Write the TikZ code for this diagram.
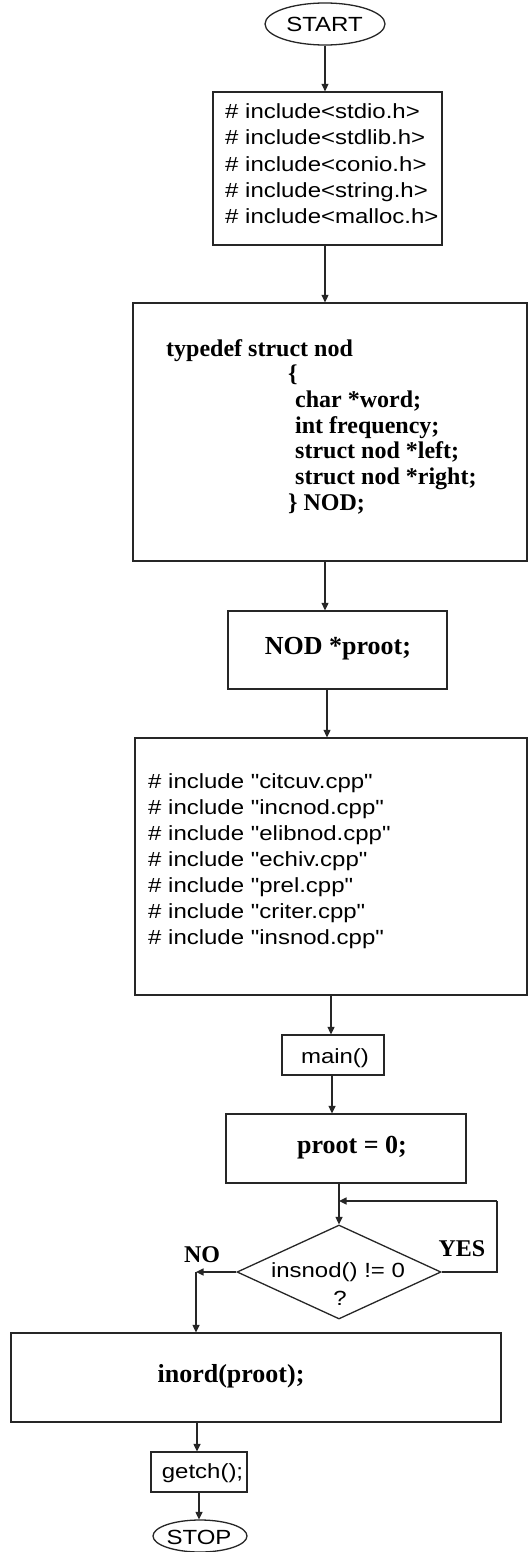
\documentclass[tikz,border=0pt]{standalone}
\usepackage{fontspec}
\newfontfamily\sansf[FakeStretch=1.17]{Liberation Sans}
\newfontfamily\serf{Liberation Serif}
\usetikzlibrary{arrows.meta,shapes.geometric}
\tikzset{
  bx/.style={draw=black!85, line width=1.3pt, inner sep=0pt, fill=none},
  arr/.style={draw=black!85, line width=1.3pt, -{Triangle[length=7.5pt,width=7pt]}},
  ln/.style={draw=black!85, line width=1.3pt},
  st/.style={font=\sansf\fontsize{20.5}{26}\selectfont, inner sep=0pt},
  sb/.style={font=\serf\bfseries\fontsize{24}{26}\selectfont, inner sep=0pt},
  sbb/.style={font=\serf\bfseries\fontsize{26}{28}\selectfont, inner sep=0pt},
}
\begin{document}
\begin{tikzpicture}[x=1pt,y=-1pt]
\useasboundingbox[fill=white] (0,0) rectangle (528,1552);

% shapes
\node[bx, ellipse, minimum width=120pt, minimum height=42pt] (start) at (325,24) {};
\node[st, anchor=base] (tstart) at (324.5,32) {START};

\node[bx, minimum width=229pt, minimum height=153pt] (b1) at (327.5,168.5) {};
\foreach \t [count=\i from 0] in {stdio.h,stdlib.h,conio.h,string.h,malloc.h}
  \node[st, anchor=base west] (inc\i) at (225,119+26*\i) {\# include<\t>};

\node[bx, minimum width=394pt, minimum height=258pt] (b2) at (330,432) {};
\node[sb, anchor=base west] (s0) at (166,356) {typedef struct nod};
\node[sb, anchor=base west] (s1) at (288,381.7) {\{};
\node[sb, anchor=base west] (s2) at (295,407.4) {char *word;};
\node[sb, anchor=base west] (s3) at (295,433.1) {int frequency;};
\node[sb, anchor=base west] (s4) at (295,458.8) {struct nod *left;};
\node[sb, anchor=base west] (s5) at (295,484.5) {struct nod *right;};
\node[sb, anchor=base west] (s6) at (288,510.2) {\} NOD;};

\node[bx, minimum width=219pt, minimum height=78pt] (b3) at (337.5,650) {};
\node[sbb, anchor=base] (t3) at (338,654) {NOD *proot;};

\node[bx, minimum width=392pt, minimum height=257pt] (b4) at (331,866.5) {};
\foreach \t [count=\i from 0] in {citcuv,incnod,elibnod,echiv,prel,criter,insnod}
  \node[st, anchor=base west] (cp\i) at (148,788+26.1*\i) {\# include "\t.cpp"};

\node[bx, minimum width=102pt, minimum height=40pt] (main) at (333,1055) {};
\node[st, anchor=base] (tmain) at (335,1063) {main()};

\node[bx, minimum width=240pt, minimum height=69pt] (pr) at (346,1148.5) {};
\node[sbb, anchor=base] (tpr) at (352,1153) {proot = 0;};

\node[bx, diamond, minimum width=204pt, minimum height=94pt] (dia) at (339,1272) {};
\node[st, anchor=base] (td1) at (338,1277) {insnod() != 0};
\node[st, anchor=base] (td2) at (340,1305) {?};

\node[sb, anchor=base] (no) at (202,1262) {NO};
\node[sb, anchor=base] (yes) at (462,1256) {YES};

\node[bx, minimum width=490pt, minimum height=89pt] (in) at (256,1377.5) {};
\node[sbb, anchor=base] (tin) at (231,1382) {inord(proot);};

\node[bx, minimum width=96pt, minimum height=40pt] (gt) at (199,1472) {};
\node[st, anchor=base] (tgt) at (202.5,1478) {getch();};

\node[bx, ellipse, minimum width=94pt, minimum height=32pt] (stop) at (200,1536) {};
\node[st, anchor=base] (tstop) at (199,1544) {STOP};

% connectors
\draw[arr] (start.south) -- (start.south |- b1.north);
\draw[arr] (start.south |- b1.south) -- (start.south |- b2.north);
\draw[arr] (start.south |- b2.south) -- (start.south |- b3.north);
\draw[arr] ([xshift=2pt]start.south |- b3.south) -- ([xshift=2pt]start.south |- b4.north);
\draw[arr] ([xshift=-2pt]main.north |- b4.south) -- ([xshift=-2pt]main.north);
\draw[arr] ([xshift=-1pt]main.south) -- ([xshift=-1pt]main.south |- pr.north);
\draw[arr] (dia.north |- pr.south) -- (dia.north);

\coordinate (ye2) at (497,1201);
\draw[ln] (dia.east) -- (dia.east -| ye2) -- (ye2);
\draw[arr] (ye2) -- (ye2 -| dia.north);

\coordinate (no1) at (196,1272);
\draw[arr] (dia.west) -- (no1);
\draw[arr] (no1) -- (no1 |- in.north);

\draw[arr] ([xshift=-2pt]gt.north |- in.south) -- ([xshift=-2pt]gt.north);
\draw[arr] (gt.south) -- (gt.south |- stop.north);
\end{tikzpicture}
\end{document}
